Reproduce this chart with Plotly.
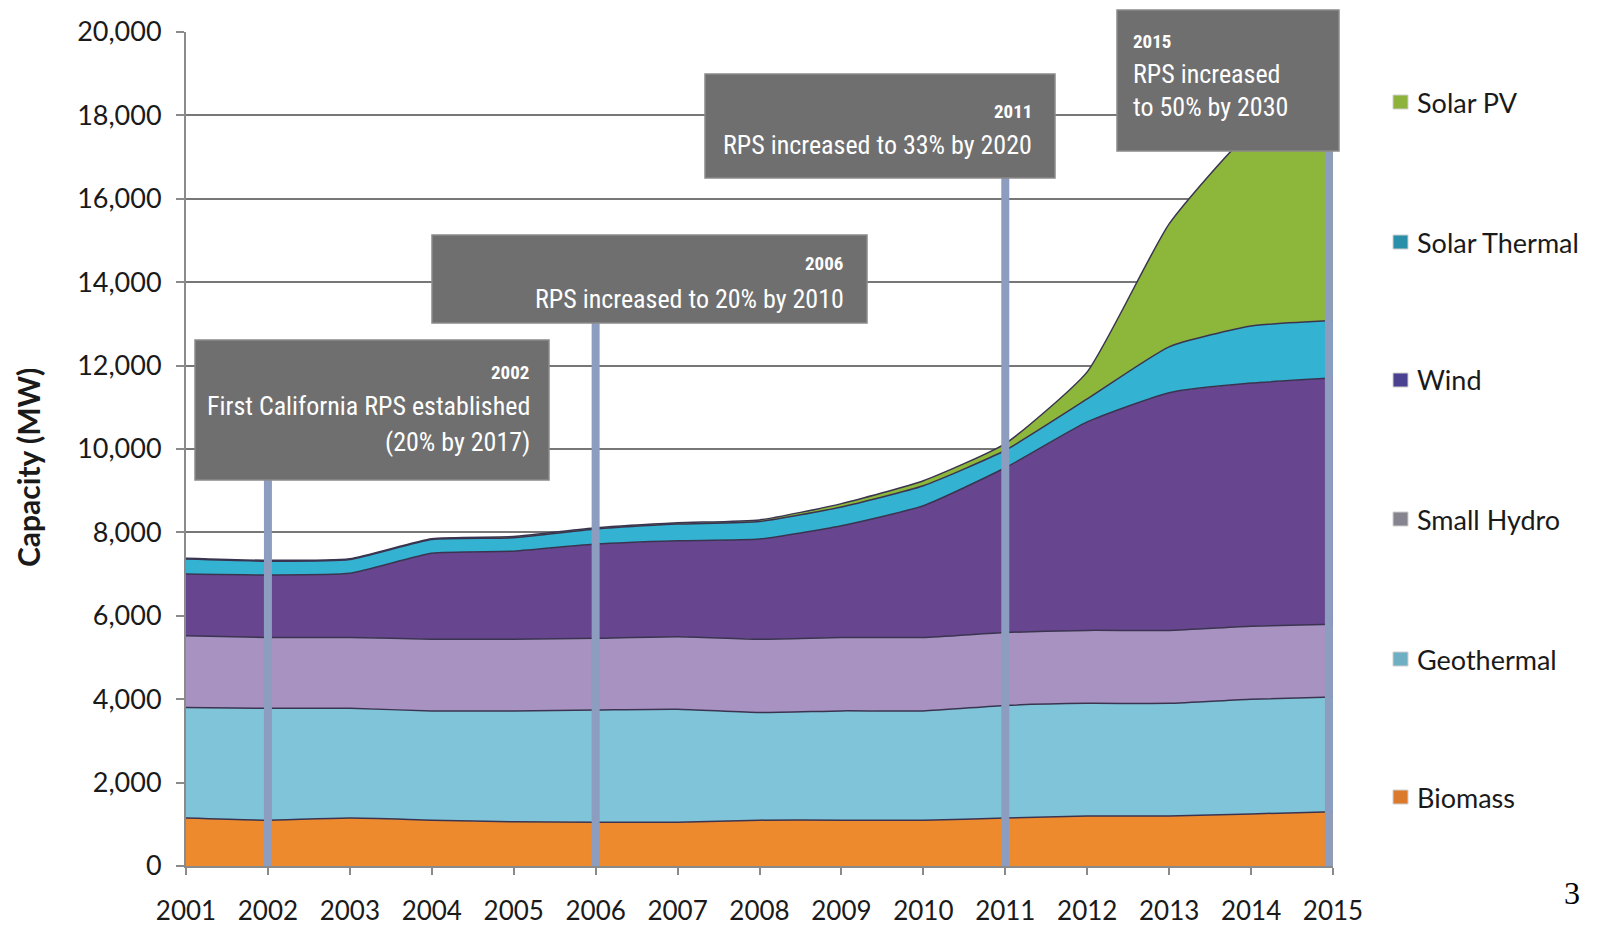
import plotly.graph_objects as go

# ---------------- data ----------------
years = list(range(2001, 2016))
biomass = [1150, 1100, 1150, 1100, 1060, 1050, 1050, 1100, 1100, 1100, 1150, 1200, 1200, 1250, 1300]
geothermal = [2650, 2680, 2630, 2620, 2660, 2690, 2710, 2580, 2620, 2620, 2700, 2700, 2700, 2750, 2750]
small_hydro = [1720, 1700, 1700, 1720, 1720, 1720, 1740, 1760, 1760, 1760, 1750, 1750, 1750, 1750, 1750]
wind = [1480, 1500, 1540, 2060, 2110, 2260, 2300, 2400, 2680, 3160, 3950, 5000, 5700, 5830, 5900]
solar_thermal = [360, 330, 330, 330, 320, 360, 400, 420, 450, 480, 420, 550, 1100, 1370, 1380]
solar_pv = [20, 20, 20, 20, 30, 30, 30, 40, 80, 120, 160, 650, 2950, 4650, 5320]

series_names = ["Biomass", "Geothermal", "Small Hydro", "Wind", "Solar Thermal", "Solar PV"]
series_values = [biomass, geothermal, small_hydro, wind, solar_thermal, solar_pv]
fill_colors = ["#EE8A2E", "#80C4DA", "#A892C2", "#67468F", "#33B2D2", "#8DB73A"]
legend_colors = ["#DA7A2A", "#6FAFC4", "#86848F", "#4A4190", "#2A8FA8", "#8DB33C"]

y_ticks = list(range(0, 20001, 2000))
x_ticks = years

event_years = [2002, 2006, 2011, 2015]

# ---------------- geometry helpers ----------------
W, H = 1601, 928
L, R, T, B = 186, 1333, 32, 866


def px(x):
    return (x - L) / (R - L)


def py(y):
    return (B - y) / (B - T)


fig = go.Figure()

for name, vals, col in zip(series_names, series_values, fill_colors):
    fig.add_trace(go.Scatter(
        x=years, y=vals, name=name, stackgroup="one", mode="lines",
        line=dict(color="#3a3450", width=1.5, shape="spline", smoothing=0.5),
        fillcolor=col, showlegend=False, hoverinfo="x+y+name",
    ))

shapes = []
annotations = []

# vertical event lines (from 0 up to box bottom)
box_bottom_px = {2002: 480, 2006: 323, 2011: 178, 2015: 151}
line_x = {2002: 2002, 2006: 2006, 2011: 2011, 2015: 2014.95}
for yr in event_years:
    shapes.append(dict(type="line", xref="x", yref="paper",
                       x0=line_x[yr], x1=line_x[yr], y0=0, y1=py(box_bottom_px[yr]),
                       line=dict(color="#8D9DBF", width=8), layer="above"))

# annotation boxes (pixel rectangles)
boxes = [(195, 340, 549, 480), (432, 235, 867, 323), (705, 74, 1055, 178), (1117, 10, 1339, 151)]
for x0, y0, x1, y1 in boxes:
    shapes.append(dict(type="rect", xref="paper", yref="paper",
                       x0=px(x0), x1=px(x1), y0=py(y1), y1=py(y0),
                       fillcolor="#6F6F6F", line=dict(color="#8a8a8a", width=1.5), layer="above"))

box_font = "Roboto Condensed, Liberation Sans Narrow, Roboto, sans-serif"
box_texts = [
    ("2002", 531, 372, "right", 19, True),
    ("First California RPS established", 532, 406, "right", 26, False),
    ("(20% by 2017)", 532, 442, "right", 26, False),
    ("2006", 845, 263, "right", 19, True),
    ("RPS increased to 20% by 2010", 846, 299, "right", 26, False),
    ("2011", 1034, 112, "right", 19, True),
    ("RPS increased to 33% by 2020", 1034, 145, "right", 26, False),
    ("2015", 1131, 41, "left", 19, True),
    ("RPS increased", 1131, 74, "left", 26, False),
    ("to 50% by 2030", 1131, 107, "left", 26, False),
]
for txt, x, y, anchor, size, bold in box_texts:
    annotations.append(dict(
        text=f"<b>{txt}</b>" if bold else txt, xref="paper", yref="paper",
        x=px(x), y=py(y), xanchor=anchor, yanchor="middle", showarrow=False,
        font=dict(family=box_font, size=size, color="white")))

# manual legend
legend_y = {"Solar PV": 102, "Solar Thermal": 242, "Wind": 380,
            "Small Hydro": 519, "Geothermal": 659, "Biomass": 797}
for name, col in zip(series_names, legend_colors):
    yc = legend_y[name]
    shapes.append(dict(type="rect", xref="paper", yref="paper",
                       x0=px(1393), x1=px(1408), y0=py(yc + 7), y1=py(yc - 7),
                       fillcolor=col, line=dict(color="#d0d0d0", width=1)))
    annotations.append(dict(text=name, xref="paper", yref="paper", x=px(1415), y=py(yc),
                            xanchor="left", yanchor="middle", showarrow=False,
                            font=dict(family="Lato, sans-serif", size=27, color="#1a1a1a")))

# y-axis title
annotations.append(dict(text="<b>Capacity (MW)</b>", xref="paper", yref="paper",
                        x=px(28), y=py(468), xanchor="center", yanchor="middle",
                        textangle=-90, showarrow=False,
                        font=dict(family="Lato, sans-serif", size=30, color="#1a1a1a")))

# page number
annotations.append(dict(text="3", xref="paper", yref="paper", x=px(1572), y=py(893),
                        xanchor="center", yanchor="middle", showarrow=False,
                        font=dict(family="Liberation Serif, Times New Roman, serif", size=32, color="black")))

fig.update_layout(
    width=W, height=H,
    margin=dict(l=L, r=W - R, t=T, b=H - B, pad=0, autoexpand=False),
    paper_bgcolor="white", plot_bgcolor="white",
    shapes=shapes, annotations=annotations,
    showlegend=False,
    xaxis=dict(range=[2001, 2015], tickvals=x_ticks, ticktext=[str(v) for v in x_ticks],
               automargin=False,
               showgrid=False, zeroline=False, showline=True, linecolor="#8a8a8a", linewidth=2,
               ticks="outside", ticklen=7, tickcolor="#8a8a8a", tickwidth=2,
               ticklabelstandoff=14,
               tickfont=dict(family="Lato, sans-serif", size=26, color="#1a1a1a")),
    yaxis=dict(range=[0, 20000], tickvals=y_ticks, tickformat=",",
               automargin=False,
               showgrid=True, gridcolor="#777777", gridwidth=2, zeroline=False,
               showline=True, linecolor="#8a8a8a", linewidth=2,
               ticks="outside", ticklen=8, tickcolor="#8a8a8a", tickwidth=2,
               ticklabelstandoff=9,
               tickfont=dict(family="Lato, sans-serif", size=27, color="#1a1a1a")),
)

fig.write_html("out.html", config={"displayModeBar": False},
               post_script="document.body.style.margin='0';document.body.style.overflow='hidden';")
